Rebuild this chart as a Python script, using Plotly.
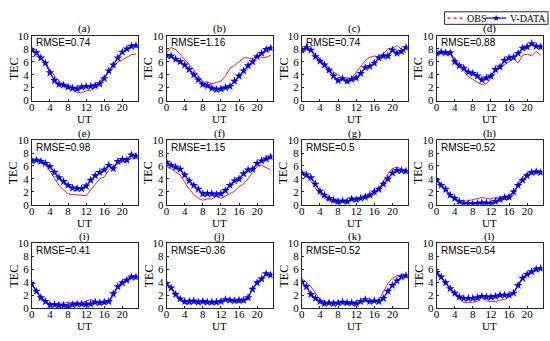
import plotly.graph_objects as go

hours = list(range(24))
panel_labels = ["(a)", "(b)", "(c)", "(d)", "(e)", "(f)", "(g)", "(h)", "(i)", "(j)", "(k)", "(l)"]
rmse_labels = ["RMSE=0.74", "RMSE=1.16", "RMSE=0.74", "RMSE=0.88", "RMSE=0.98", "RMSE=1.15",
               "RMSE=0.5", "RMSE=0.52", "RMSE=0.41", "RMSE=0.36", "RMSE=0.52", "RMSE=0.54"]
series_names = ["OBS", "V-DATA"]
x_ticks = [0, 4, 8, 12, 16, 20]
y_ticks = [0, 2, 4, 6, 8, 10]

obs_a = [6.8, 6.9, 6.6, 5.9, 4.8, 3.8, 3.0, 2.5, 2.2, 1.8, 1.2, 1.2, 1.5, 1.6, 2.0, 3.0, 3.8, 4.3, 5.2, 6.0, 6.3, 6.7, 7.1, 7.2]
vdata_a = [7.8, 7.4, 6.6, 5.8, 4.3, 3.1, 2.5, 2.4, 2.1, 1.9, 1.8, 2.1, 2.2, 2.2, 2.3, 2.6, 3.4, 4.6, 5.5, 6.6, 7.5, 8.0, 8.4, 8.5]
obs_b = [7.5, 8.2, 7.9, 7.1, 6.3, 5.6, 4.8, 3.8, 2.8, 2.9, 2.6, 2.8, 3.0, 3.8, 5.0, 5.4, 6.0, 6.6, 6.6, 6.4, 7.0, 6.6, 6.7, 7.0]
vdata_b = [7.0, 6.9, 6.4, 6.0, 5.5, 4.8, 4.0, 3.2, 2.5, 2.3, 1.9, 1.7, 1.8, 2.0, 2.2, 3.0, 3.8, 4.6, 5.4, 6.0, 6.8, 7.3, 7.9, 8.1]
obs_c = [7.3, 7.8, 7.8, 7.2, 6.4, 5.6, 5.0, 4.4, 4.0, 3.5, 3.0, 3.4, 4.4, 5.4, 6.2, 6.7, 6.9, 6.8, 7.2, 8.0, 8.1, 8.5, 7.9, 7.4]
vdata_c = [7.8, 8.2, 7.8, 6.8, 6.1, 5.5, 4.7, 3.8, 3.1, 3.4, 3.0, 3.3, 3.5, 4.2, 5.1, 5.3, 5.8, 6.6, 6.9, 6.9, 7.8, 7.3, 7.6, 8.2]
obs_d = [7.3, 7.4, 7.3, 7.2, 6.6, 5.3, 4.5, 3.7, 3.3, 2.8, 2.5, 2.6, 3.4, 4.5, 5.2, 5.6, 6.0, 6.6, 5.8, 7.0, 7.2, 6.9, 7.6, 7.0]
vdata_d = [7.3, 7.5, 7.4, 7.4, 6.0, 5.4, 5.0, 4.4, 4.2, 3.8, 3.2, 3.5, 3.8, 4.8, 5.2, 6.2, 6.6, 6.7, 7.3, 8.1, 8.3, 8.8, 8.4, 8.3]
obs_e = [7.2, 6.9, 6.6, 6.2, 5.2, 4.0, 3.0, 2.3, 1.7, 1.6, 1.5, 1.4, 1.4, 2.3, 3.2, 4.0, 4.3, 5.3, 6.0, 6.3, 6.7, 7.0, 7.2, 7.2]
vdata_e = [6.8, 6.9, 6.7, 6.4, 5.9, 5.0, 4.2, 3.6, 3.0, 2.6, 2.5, 2.5, 2.9, 3.8, 4.5, 5.0, 5.4, 6.1, 5.6, 6.7, 7.0, 6.9, 7.7, 7.5]
obs_f = [5.9, 5.6, 5.1, 4.6, 3.5, 2.4, 1.6, 1.0, 0.7, 0.9, 0.9, 1.3, 1.0, 1.3, 1.7, 2.1, 2.8, 3.2, 4.0, 5.0, 6.0, 6.1, 5.8, 5.4]
vdata_f = [6.6, 6.1, 5.8, 5.5, 4.6, 3.7, 3.0, 2.4, 1.7, 1.7, 1.7, 1.6, 1.7, 2.2, 3.0, 3.7, 4.0, 4.8, 5.4, 5.5, 6.4, 6.8, 7.1, 7.4]
obs_g = [5.0, 4.3, 3.7, 2.6, 1.6, 1.0, 0.6, 0.4, 0.3, 0.5, 0.6, 0.7, 0.8, 0.9, 1.1, 1.2, 1.5, 2.5, 3.6, 4.8, 5.6, 5.8, 5.6, 5.3]
vdata_g = [4.9, 4.6, 4.2, 3.2, 2.1, 1.5, 1.0, 0.7, 0.5, 0.6, 0.5, 0.9, 0.8, 1.0, 1.2, 1.5, 2.0, 2.4, 3.2, 4.0, 4.9, 5.3, 5.3, 5.2]
obs_h = [4.2, 3.0, 2.0, 1.3, 0.8, 0.6, 0.6, 0.6, 0.8, 1.0, 1.1, 1.0, 0.9, 1.1, 1.2, 0.9, 0.8, 1.5, 3.3, 4.3, 4.9, 5.1, 5.1, 5.1]
vdata_h = [3.8, 3.0, 2.4, 1.5, 1.0, 0.5, 0.2, 0.2, 0.1, 0.2, 0.3, 0.3, 0.2, 0.5, 0.8, 1.1, 1.2, 2.0, 3.0, 3.8, 4.5, 5.0, 5.1, 5.0]
obs_i = [3.7, 2.5, 1.6, 0.9, 0.6, 0.6, 0.8, 0.7, 0.9, 0.8, 0.8, 0.8, 1.1, 1.3, 1.0, 0.9, 0.8, 0.9, 1.8, 3.4, 4.0, 4.4, 5.1, 4.8]
vdata_i = [3.7, 2.6, 1.6, 1.0, 0.5, 0.5, 0.4, 0.4, 0.3, 0.5, 0.6, 0.6, 0.6, 0.6, 0.9, 0.8, 0.9, 1.0, 2.2, 3.3, 3.9, 4.3, 4.8, 4.8]
obs_j = [3.7, 3.0, 2.0, 1.2, 0.7, 0.6, 0.7, 0.8, 0.9, 0.9, 0.9, 0.9, 1.0, 1.2, 1.2, 1.0, 0.8, 0.9, 1.6, 3.0, 4.0, 4.6, 5.1, 5.1]
vdata_j = [3.8, 3.1, 2.1, 1.4, 1.0, 1.0, 1.1, 0.9, 1.0, 0.9, 0.9, 0.9, 1.0, 1.3, 1.2, 1.1, 1.2, 1.2, 1.6, 2.9, 3.9, 4.5, 5.3, 5.1]
obs_k = [4.5, 4.0, 3.3, 2.3, 1.3, 0.8, 0.7, 0.7, 0.8, 0.8, 0.8, 0.8, 0.7, 1.0, 1.1, 1.0, 1.0, 1.2, 2.6, 3.8, 4.6, 5.0, 5.1, 5.1]
vdata_k = [4.0, 3.3, 2.1, 1.5, 1.0, 0.7, 0.8, 0.7, 0.8, 0.9, 0.8, 0.8, 0.7, 1.0, 1.3, 1.0, 1.1, 1.0, 1.5, 2.6, 3.5, 4.2, 4.8, 5.0]
obs_l = [5.6, 4.8, 3.9, 2.9, 2.0, 1.4, 0.9, 0.8, 0.9, 1.0, 1.8, 1.1, 1.0, 1.0, 1.2, 1.3, 1.7, 2.3, 3.6, 4.7, 5.3, 5.7, 6.0, 6.1]
vdata_l = [5.5, 4.8, 3.9, 3.0, 2.3, 1.7, 1.5, 1.5, 1.5, 1.6, 1.8, 1.7, 1.7, 1.8, 2.0, 2.0, 2.0, 2.3, 3.5, 4.6, 5.2, 5.6, 6.0, 6.1]

obs_all = [obs_a, obs_b, obs_c, obs_d, obs_e, obs_f, obs_g, obs_h, obs_i, obs_j, obs_k, obs_l]
vdata_all = [vdata_a, vdata_b, vdata_c, vdata_d, vdata_e, vdata_f, vdata_g, vdata_h, vdata_i, vdata_j, vdata_k, vdata_l]

W, H = 550, 341
col_left = [29, 164.5, 300.5, 436]
plot_w = 106.5
row_top = [31, 139, 246]
plot_h = 67

AX_COLOR = "#262626"
OBS_COLOR = "#ff0000"
VD_COLOR = "#0000ff"
SERIF = "Liberation Serif, Times New Roman, serif"
SANS = "Liberation Sans, Arial, sans-serif"


def px(xp):
    return xp / W


def py(yp):
    return 1 - yp / H


fig = go.Figure()
annotations = []
shapes = []
layout_axes = {}
for i in range(12):
    r, c = divmod(i, 4)
    n = i + 1
    xs = "" if n == 1 else str(n)
    x0 = px(col_left[c])
    x1 = px(col_left[c] + plot_w)
    y1 = py(row_top[r])
    y0 = py(row_top[r] + plot_h)
    fig.add_trace(go.Scatter(
        x=hours, y=obs_all[i], mode="lines", name=series_names[0],
        line=dict(color=OBS_COLOR, width=0.9),
        xaxis="x" + xs, yaxis="y" + xs, showlegend=False))
    fig.add_trace(go.Scatter(
        x=hours, y=vdata_all[i], mode="lines+markers", name=series_names[1],
        line=dict(color=VD_COLOR, width=1.2),
        marker=dict(symbol="star", size=6.5, color=VD_COLOR),
        xaxis="x" + xs, yaxis="y" + xs, showlegend=False))
    common = dict(showgrid=False, zeroline=False, showline=True, mirror=True,
                  linecolor=AX_COLOR, linewidth=1, ticks="inside", ticklen=2,
                  tickcolor=AX_COLOR,
                  tickfont=dict(family=SERIF, size=11, color="#000000"))
    layout_axes["xaxis" + xs] = dict(common, domain=[x0, x1], range=[0, 23.4],
                                     tickvals=x_ticks, anchor="y" + xs, ticklabelstandoff=-4)
    layout_axes["yaxis" + xs] = dict(common, domain=[y0, y1], range=[0, 10],
                                     tickvals=y_ticks, anchor="x" + xs)
    annotations.append(dict(text=panel_labels[i], x=(x0 + x1) / 2, y=y1, xref="paper", yref="paper",
                            xanchor="center", yanchor="middle", yshift=7, showarrow=False,
                            font=dict(family=SERIF, size=11, color="#000")))
    annotations.append(dict(text="UT", x=(x0 + x1) / 2, y=y0, xref="paper", yref="paper",
                            xanchor="center", yanchor="middle", yshift=-18.5, showarrow=False,
                            font=dict(family=SERIF, size=11, color="#000")))
    annotations.append(dict(text="TEC", x=x0, y=(y0 + y1) / 2, xref="paper", yref="paper",
                            xanchor="center", yanchor="middle", xshift=-18, textangle=-90,
                            showarrow=False, font=dict(family=SERIF, size=12, color="#000")))
    annotations.append(dict(text=rmse_labels[i], x=x0, y=y1, xref="paper", yref="paper",
                            xanchor="left", yanchor="middle", xshift=2, yshift=-7, showarrow=False,
                            font=dict(family=SANS, size=10, color="#000")))

# compact legend box (top right), like the original figure's legend
leg_cy = 12.5
shapes.append(dict(type="rect", xref="paper", yref="paper", x0=px(444), x1=px(548),
                   y0=py(19), y1=py(6), line=dict(color=AX_COLOR, width=1), fillcolor="white"))
shapes.append(dict(type="line", xref="paper", yref="paper", x0=px(447), x1=px(463),
                   y0=py(leg_cy), y1=py(leg_cy), line=dict(color=OBS_COLOR, width=1.2, dash="dot")))
shapes.append(dict(type="line", xref="paper", yref="paper", x0=px(485), x1=px(506),
                   y0=py(leg_cy), y1=py(leg_cy), line=dict(color=VD_COLOR, width=1.2)))
annotations.append(dict(text="★", x=px(495.5), y=py(leg_cy), xref="paper", yref="paper",
                        xanchor="center", yanchor="middle", showarrow=False,
                        font=dict(family="DejaVu Sans", size=9, color=VD_COLOR)))
annotations.append(dict(text=series_names[0], x=px(465), y=py(leg_cy), xref="paper", yref="paper",
                        xanchor="left", yanchor="middle", showarrow=False,
                        font=dict(family=SERIF, size=10, color="#000")))
annotations.append(dict(text=series_names[1], x=px(508), y=py(leg_cy), xref="paper", yref="paper",
                        xanchor="left", yanchor="middle", showarrow=False,
                        font=dict(family=SERIF, size=10, color="#000")))

fig.update_layout(
    width=W, height=H, margin=dict(l=0, r=0, t=0, b=0),
    paper_bgcolor="white", plot_bgcolor="white",
    showlegend=False,
    annotations=annotations,
    shapes=shapes,
    **layout_axes,
)
fig.write_html("out.html", config={"displayModeBar": False},
               post_script="document.body.style.margin='0';document.body.style.padding='0';")
